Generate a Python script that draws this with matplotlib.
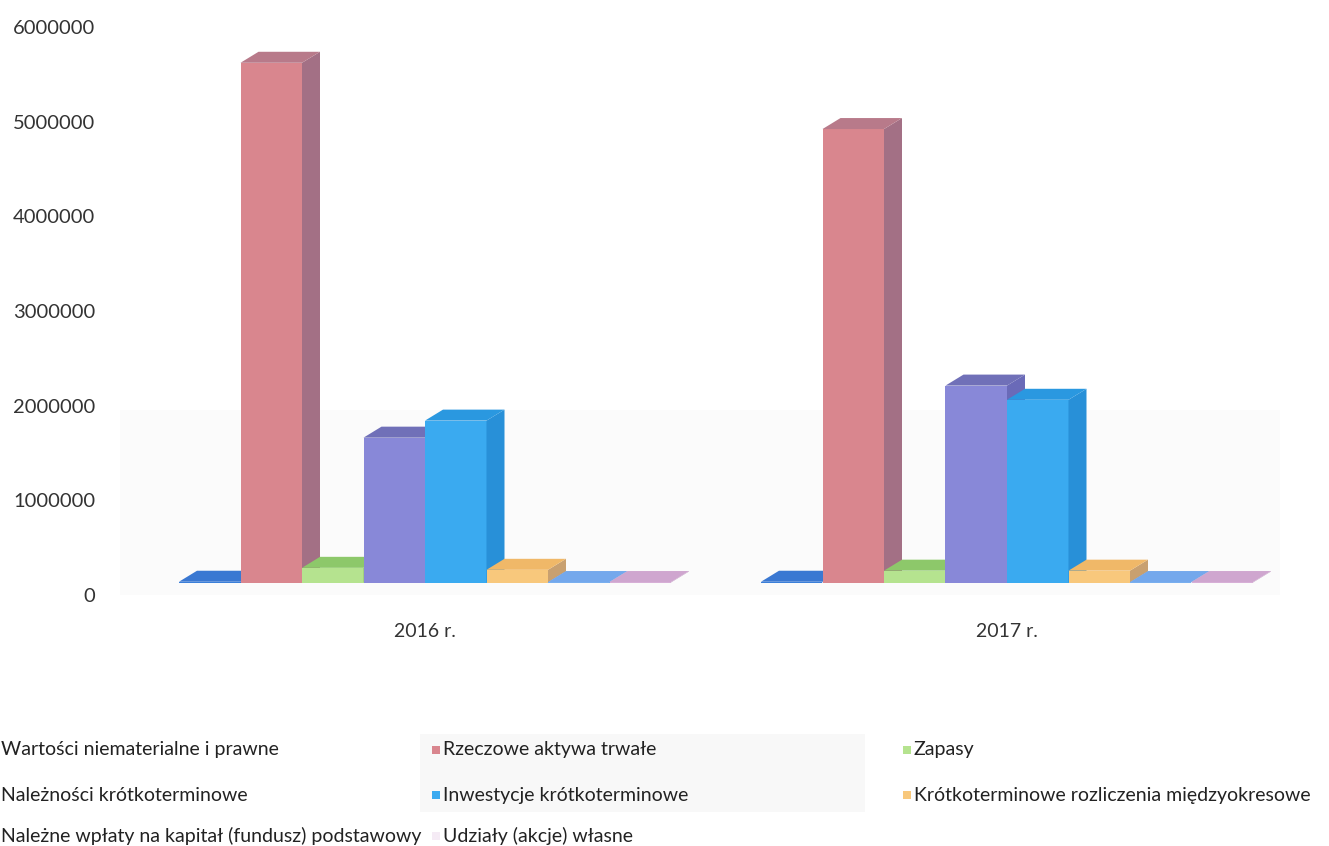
import matplotlib
matplotlib.use('agg')

import matplotlib.pyplot as plt
from matplotlib.patches import Rectangle, Polygon

plt.rcParams['font.family'] = ['Lato', 'DejaVu Sans']

years = ['2016 r.', '2017 r.']
series = [
    'Wartości niematerialne i prawne',
    'Rzeczowe aktywa trwałe',
    'Zapasy',
    'Należności krótkoterminowe',
    'Inwestycje krótkoterminowe',
    'Krótkoterminowe rozliczenia międzyokresowe',
    'Należne wpłaty na kapitał (fundusz) podstawowy',
    'Udziały (akcje) własne',
]
values_2016 = [8000, 5490000, 155000, 1530000, 1710000, 134000, 5000, 5000]
values_2017 = [8000, 4790000, 125000, 2080000, 1930000, 125000, 5000, 5000]
yticks = [0, 1000000, 2000000, 3000000, 4000000, 5000000, 6000000]

# front / side / top face colours per series
front = ['#3b7fd9', '#d9868e', '#b5e38f', '#8888d8', '#3aaaf0', '#f8c87c', '#7ab0f0', '#d8b0d8']
side = ['#2f68b8', '#a37085', '#8fbf70', '#6a6ab8', '#2890d8', '#c8a070', '#6296d6', '#bf98c0']
top = ['#3a78d2', '#b87a8a', '#8dc86a', '#7070b8', '#2a98e0', '#f0b868', '#74a8ec', '#cfa6cf']

W, H = 1329, 846
fig = plt.figure(figsize=(W / 100, H / 100), dpi=100)

# axes placed in pixels: 0 at y=595, 6M at y=27
ax_l, ax_r, ax_t, ax_b = 120, 1280, 27, 595
ax = fig.add_axes([ax_l / W, 1 - ax_b / H, (ax_r - ax_l) / W, (ax_b - ax_t) / H])
px_per_unit = 582.0
cat_x0 = 425.0
ax.set_xlim((ax_l - cat_x0) / px_per_unit, (ax_r - cat_x0) / px_per_unit)
ax.set_ylim(0, 6000000)

px_per_val = (ax_b - ax_t) / 6000000.0
bw = 61.5 / px_per_unit          # bar width
dx = 18 / px_per_unit            # 3d depth, horizontal
dy = 11 / px_per_val             # 3d depth, vertical
oy = 12.5 / px_per_val           # bars sit back from the floor front edge

# faint scan shading behind the lower part of the plot
ax.add_patch(Rectangle((ax.get_xlim()[0], 0), 2.0, 1950000, facecolor='#fbfbfb',
                       edgecolor='none', zorder=0))

for ci, vals in enumerate([values_2016, values_2017]):
    for i, v in enumerate(vals):
        x0 = ci + (i - len(vals) / 2) * bw
        b = oy
        t = oy + v
        ax.add_patch(Rectangle((x0, b), bw, v, facecolor=front[i], edgecolor='none', zorder=2 + i))
        ax.add_patch(Polygon([(x0 + bw, b), (x0 + bw + dx, b + dy), (x0 + bw + dx, t + dy), (x0 + bw, t)],
                             closed=True, facecolor=side[i], edgecolor='none', zorder=2 + i))
        ax.add_patch(Polygon([(x0, t), (x0 + dx, t + dy), (x0 + bw + dx, t + dy), (x0 + bw, t)],
                             closed=True, facecolor=top[i], edgecolor='none', zorder=2 + i))

ax.set_yticks(yticks)
ax.set_yticklabels([str(v) for v in yticks], fontsize=14.5, color='#333333')
ax.set_xticks([0, 1])
ax.set_xticklabels(years, fontsize=14, color='#333333')
ax.tick_params(axis='both', length=0)
ax.tick_params(axis='y', pad=18)
ax.tick_params(axis='x', pad=20)
for s in ax.spines.values():
    s.set_visible(False)

# legend drawn by hand, three columns
leg_bg = Rectangle((420 / W, 1 - 812 / H), 445 / W, 78 / H, transform=fig.transFigure,
                   facecolor='#f8f8f8', edgecolor='none', zorder=0)
fig.patches.append(leg_bg)

rows = [750, 795, 836]
cols = [None, 432, 903]
leg_fs = 14
for k, name in enumerate(series):
    r, c = divmod(k, 3)
    y = 1 - rows[r] / H
    if c == 0:
        tx = 1 / W
    else:
        mx = cols[c]
        alpha = 0.25 if k == 7 else 1.0
        fig.patches.append(Rectangle((mx / W, y - 4 / H), 8 / W, 8 / H, transform=fig.transFigure,
                                     facecolor=front[k], edgecolor='none', alpha=alpha))
        tx = (mx + 11) / W
    fig.text(tx, y, name, fontsize=leg_fs, color='#222222', va='center', ha='left')

fig.savefig('out.png', dpi=100)
